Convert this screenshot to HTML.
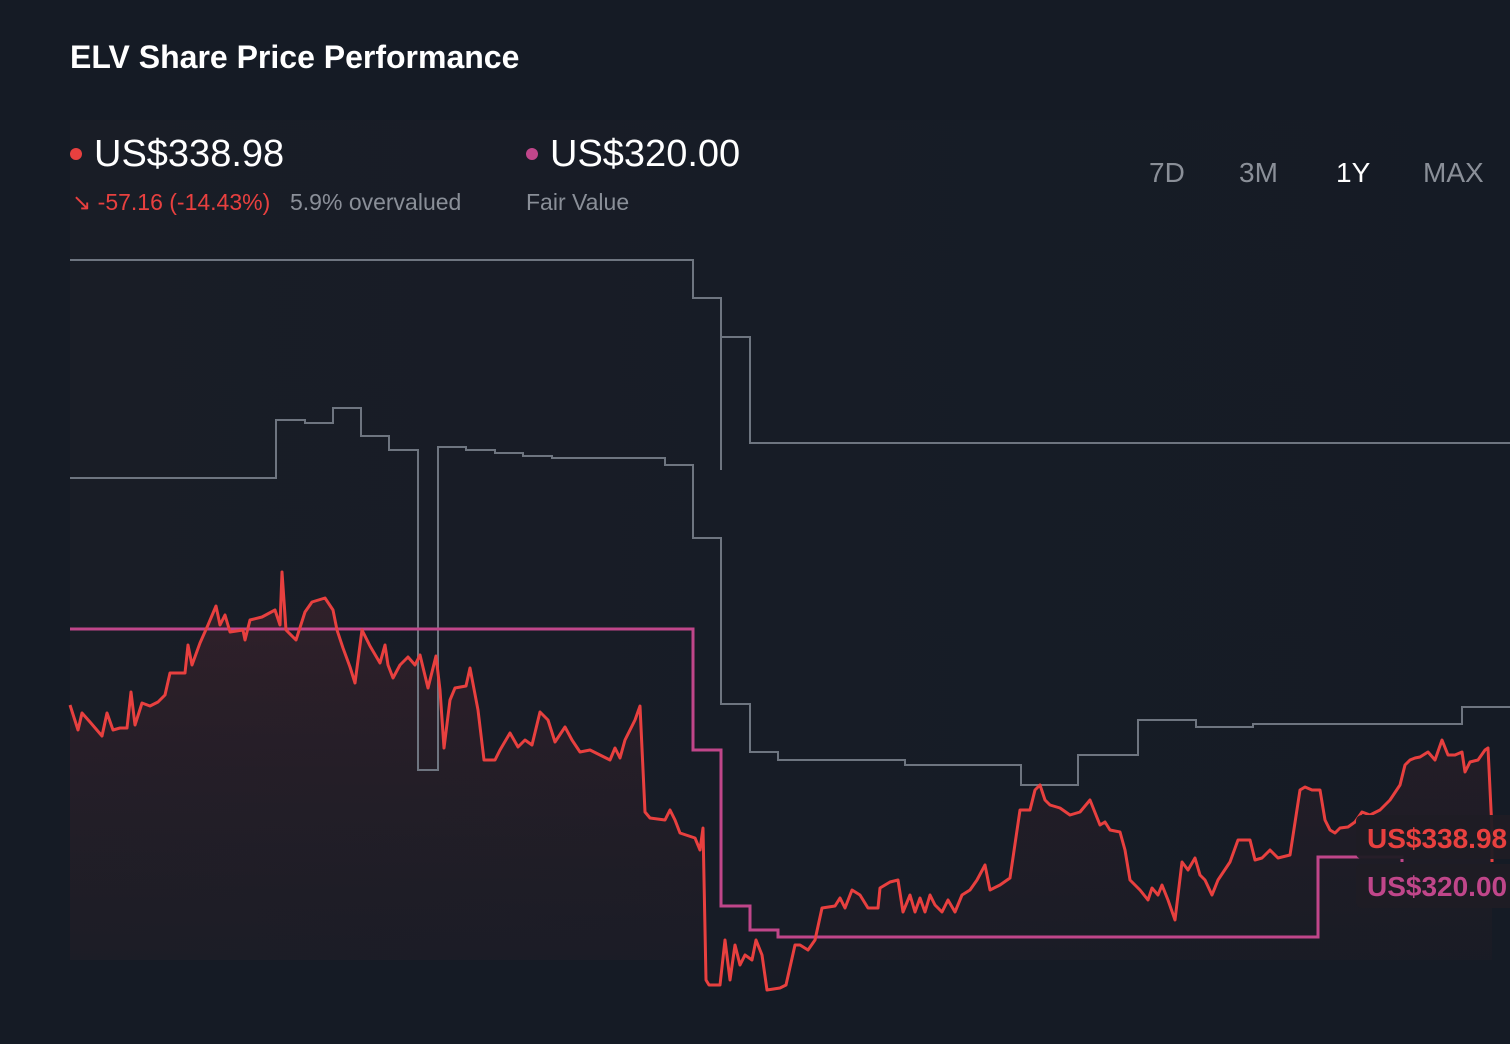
<!DOCTYPE html>
<html><head><meta charset="utf-8"><style>
html,body{margin:0;padding:0;background:#151b25;}
body{width:1510px;height:1044px;overflow:hidden;position:relative;font-family:"Liberation Sans",sans-serif;}
.t{position:absolute;white-space:nowrap;}
</style></head><body>
<svg width="1510" height="1044" style="position:absolute;left:0;top:0">
<defs>
<linearGradient id="g" x1="0" y1="0" x2="0" y2="1">
<stop offset="0" stop-color="#5a2630" stop-opacity="0.4"/>
<stop offset="1" stop-color="#2a1c24" stop-opacity="0.15"/>
</linearGradient>
<linearGradient id="bg" x1="0" y1="0" x2="1" y2="0">
<stop offset="0" stop-color="#1d1f28"/><stop offset="1" stop-color="#151b25"/>
</linearGradient>
</defs>
<rect x="70" y="120" width="1440" height="840" fill="url(#bg)" opacity="0.5"/>
<path id="red" d="M70,705 L78,730 82,713 90,722 102,736 107,713 113,730 120,728 127,728 131,692 135,725 142,703 150,706 158,702 165,695 170,673 185,673 188,645 192,665 200,643 208,625 216,606 220,625 225,615 230,632 243,630 245,640 250,620 262,617 275,610 280,625 282,572 286,630 296,640 305,612 312,602 325,598 333,610 337,630 343,648 350,667 355,683 362,630 370,646 380,663 385,645 388,665 393,678 400,665 408,657 415,665 420,655 428,688 436,656 440,690 444,748 450,700 455,688 466,686 470,668 478,710 484,760 495,760 500,750 510,733 518,747 525,740 532,745 540,712 548,720 555,742 565,727 572,740 580,752 590,750 600,755 610,760 615,748 620,758 625,740 635,720 640,706 645,812 650,818 665,820 670,810 675,820 680,833 695,838 700,850 703,828 706,980 709,985 720,985 725,940 730,980 735,945 740,965 745,955 752,960 756,940 762,955 767,990 780,988 786,985 795,945 800,945 808,950 815,940 822,908 835,906 840,898 845,908 852,890 860,895 868,908 878,908 880,888 890,882 898,880 903,912 910,895 915,912 920,898 925,912 930,895 935,905 942,912 948,900 955,912 962,895 970,890 977,880 985,865 990,890 1000,885 1010,878 1020,810 1030,810 1035,790 1040,785 1045,800 1050,805 1060,808 1070,815 1080,812 1090,800 1100,825 1105,822 1110,830 1120,832 1125,850 1130,880 1135,885 1140,890 1148,900 1152,888 1158,895 1162,885 1168,900 1175,920 1182,862 1188,870 1195,858 1200,875 1205,880 1212,895 1218,880 1230,862 1238,840 1250,840 1255,860 1262,858 1270,850 1278,858 1290,855 1300,790 1305,787 1312,790 1320,790 1325,820 1330,830 1335,833 1340,828 1348,827 1355,822 1362,812 1370,815 1380,810 1390,800 1400,785 1405,765 1410,760 1415,758 1420,757 1428,752 1435,760 1442,740 1448,755 1455,755 1462,752 1465,772 1470,762 1478,760 1485,750 1488,748 1492,830 1492,862" fill="none"/>
<path d="M70,705 L78,730 82,713 90,722 102,736 107,713 113,730 120,728 127,728 131,692 135,725 142,703 150,706 158,702 165,695 170,673 185,673 188,645 192,665 200,643 208,625 216,606 220,625 225,615 230,632 243,630 245,640 250,620 262,617 275,610 280,625 282,572 286,630 296,640 305,612 312,602 325,598 333,610 337,630 343,648 350,667 355,683 362,630 370,646 380,663 385,645 388,665 393,678 400,665 408,657 415,665 420,655 428,688 436,656 440,690 444,748 450,700 455,688 466,686 470,668 478,710 484,760 495,760 500,750 510,733 518,747 525,740 532,745 540,712 548,720 555,742 565,727 572,740 580,752 590,750 600,755 610,760 615,748 620,758 625,740 635,720 640,706 645,812 650,818 665,820 670,810 675,820 680,833 695,838 700,850 703,828 706,980 709,985 720,985 725,940 730,980 735,945 740,965 745,955 752,960 756,940 762,955 767,990 780,988 786,985 795,945 800,945 808,950 815,940 822,908 835,906 840,898 845,908 852,890 860,895 868,908 878,908 880,888 890,882 898,880 903,912 910,895 915,912 920,898 925,912 930,895 935,905 942,912 948,900 955,912 962,895 970,890 977,880 985,865 990,890 1000,885 1010,878 1020,810 1030,810 1035,790 1040,785 1045,800 1050,805 1060,808 1070,815 1080,812 1090,800 1100,825 1105,822 1110,830 1120,832 1125,850 1130,880 1135,885 1140,890 1148,900 1152,888 1158,895 1162,885 1168,900 1175,920 1182,862 1188,870 1195,858 1200,875 1205,880 1212,895 1218,880 1230,862 1238,840 1250,840 1255,860 1262,858 1270,850 1278,858 1290,855 1300,790 1305,787 1312,790 1320,790 1325,820 1330,830 1335,833 1340,828 1348,827 1355,822 1362,812 1370,815 1380,810 1390,800 1400,785 1405,765 1410,760 1415,758 1420,757 1428,752 1435,760 1442,740 1448,755 1455,755 1462,752 1465,772 1470,762 1478,760 1485,750 1488,748 1492,830 1492,960 L70,960 Z" fill="url(#g)"/>
<g fill="none" stroke="#6e7580" stroke-width="2">
<path d="M70,260 H693 V298 H721 V470 M721,337 H750 V443 H1510"/>
<path d="M70,478 H276 V420 H305 V423 H333 V408 H361 V436 H389 V450 H418 V770 H438 V447 H466 V450 H495 V453 H523 V456 H552 V458 H665 V465 H693 V538 H721 V704 H750 V752 H778 V760 H905 V765 H1021 V785 H1078 V755 H1138 V720 H1196 V727 H1253 V724 H1462 V707 H1510"/>
</g>
<path d="M70,629 H693 V750 H721 V906 H750 V930 H778 V937 H1318 V857 H1402 V862" fill="none" stroke="#c0468a" stroke-width="3"/>
<use href="#red" stroke="#e8403f" stroke-width="3" stroke-linejoin="round"/>
<rect x="1356" y="815" width="160" height="44" rx="6" fill="#1f1c24" opacity="0.95"/>
<rect x="1356" y="864" width="160" height="44" rx="6" fill="#1f1c24" opacity="0.95"/>
<text x="1367" y="848" font-family="Liberation Sans,sans-serif" font-size="28" font-weight="bold" fill="#e8403f">US$338.98</text>
<text x="1367" y="896" font-family="Liberation Sans,sans-serif" font-size="28" font-weight="bold" fill="#c0468a">US$320.00</text>
</svg>
<div class="t" style="left:70px;top:39px;font-size:32px;color:#fff;font-weight:bold">ELV Share Price Performance</div>
<div class="t" style="left:70px;top:148px;width:12px;height:12px;border-radius:6px;background:#e8403f"></div>
<div class="t" style="left:94px;top:133px;font-size:38px;color:#fff">US$338.98</div>
<div class="t" style="left:526px;top:148px;width:12px;height:12px;border-radius:6px;background:#c0468a"></div>
<div class="t" style="left:550px;top:133px;font-size:38px;color:#fff">US$320.00</div>
<div class="t" style="left:72px;top:189px;font-size:23px;color:#e8403f">&#8600; -57.16 (-14.43%)</div>
<div class="t" style="left:290px;top:189px;font-size:23px;color:#8a8f98">5.9% overvalued</div>
<div class="t" style="left:526px;top:189px;font-size:23px;color:#8a8f98">Fair Value</div>
<div class="t" style="left:1149px;top:157px;font-size:28px;color:#8a8f98">7D</div>
<div class="t" style="left:1239px;top:157px;font-size:28px;color:#8a8f98">3M</div>
<div class="t" style="left:1336px;top:157px;font-size:28px;color:#fff">1Y</div>
<div class="t" style="left:1423px;top:157px;font-size:28px;color:#8a8f98">MAX</div>
</body></html>
